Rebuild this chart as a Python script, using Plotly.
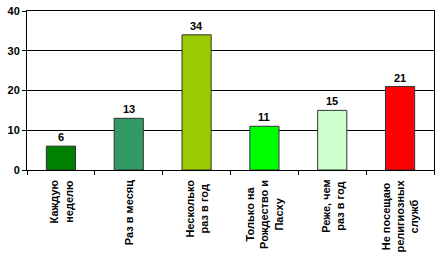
import plotly.graph_objects as go

categories = ["Каждую<br>неделю", "Раз в месяц", "Несколько<br>раз в год",
              "Только на<br>Рождество и<br>Пасху", "Реже, чем<br>раз в год",
              "Не посещаю<br>религиозных<br>служб"]
values = [6, 13, 34, 11, 15, 21]
colors = ["#008000", "#339966", "#99CC00", "#00FF00", "#CCFFCC", "#FF0000"]
y_ticks = [0, 10, 20, 30, 40]

font_b = dict(family="Arial, Liberation Sans, sans-serif", size=11, color="black")

fig = go.Figure()
fig.add_trace(go.Bar(
    x=list(range(len(categories))), y=values,
    marker=dict(color=colors, line=dict(color="#333333", width=1)),
))

for i, v in enumerate(values):
    fig.add_annotation(x=i, xref="x", y=v, yref="y", text=f"<b>{v}</b>",
                       xanchor="center", yanchor="bottom", yshift=1,
                       showarrow=False, font=font_b)

for i, c in enumerate(categories):
    fig.add_annotation(x=i, xref="x", y=0, yref="paper", text=f"<b>{c}</b>",
                       textangle=-90, xanchor="center", yanchor="top",
                       yshift=-8, showarrow=False, align="center", font=font_b)

fig.update_layout(
    width=439, height=259, margin=dict(l=27, r=5, t=11, b=89),
    paper_bgcolor="white", plot_bgcolor="white", showlegend=False,
    bargap=0.57, font=font_b,
)
fig.update_xaxes(range=[-0.5, 5.5], showticklabels=False, showline=True,
                 linecolor="black", linewidth=1, mirror=True,
                 tickvals=[-0.5, 0.5, 1.5, 2.5, 3.5, 4.5, 5.5],
                 ticks="outside", ticklen=4, tickcolor="black", showgrid=False,
                 zeroline=False)
fig.update_yaxes(range=[0, 40], tickvals=y_ticks,
                 ticktext=[f"<b>{t}</b>" for t in y_ticks],
                 showline=True, linecolor="black", linewidth=1, mirror=True,
                 ticks="outside", ticklen=4, tickcolor="black",
                 gridcolor="black", gridwidth=1, zeroline=False, tickfont=font_b)

fig.write_html("out.html")
